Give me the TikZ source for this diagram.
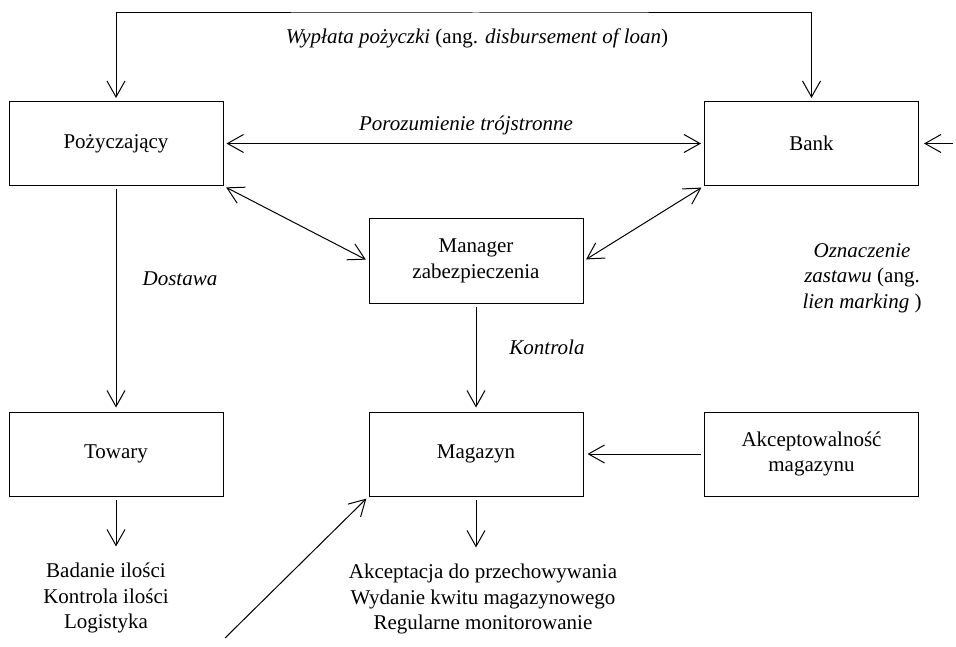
\documentclass[tikz,border=0pt]{standalone}
\usepackage{fontspec}
\setmainfont{Liberation Serif}
\usetikzlibrary{arrows.meta}
\tikzset{
  box/.style={draw, minimum width=214pt, minimum height=84pt, align=center, inner sep=0pt},
  txt/.style={align=center, inner sep=0pt},
  >={Straight Barb[length=16pt,width=18pt]}
}
\begin{document}
\begin{tikzpicture}[x=1pt, y=-1pt, line width=1pt, font=\fontsize{21}{25.5}\selectfont]
  \useasboundingbox (0,0) rectangle (956,647);
  \draw
    (116,143.5) node[box] (poz){Pożyczający}
    (811.5,143.5) node[box] (bank){Bank}
    (476,261) node[box] (man){Manager\\zabezpieczenia}
    (116,454) node[box] (tow){Towary}
    (476,454) node[box] (mag){Magazyn}
    (811.5,454) node[box] (akc){Akceptowalność\\magazynu};
  \draw
    (477,38) node[txt] (wyp){\textit{Wypłata pożyczki} (ang. \textit{disbursement of loan})}
    (466,125) node[txt] (por){\textit{Porozumienie trójstronne}}
    (180,279) node[txt] (dost){\textit{Dostawa}}
    (547,347) node[txt] (kon){\textit{Kontrola}}
    (862,278) node[txt] (ozn){\textit{Oznaczenie}\\\textit{zastawu} (ang.\\\textit{lien marking} )}
    (106,598) node[txt] (bad){Badanie ilości\\Kontrola ilości\\Logistyka}
    (483,599) node[txt] (akp){Akceptacja do przechowywania\\Wydanie kwitu magazynowego\\Regularne monitorowanie};
  \coordinate (top) at (476,13);
  \coordinate (in) at (956,143.5);
  \coordinate (src) at (223,640);
  \begin{scope}[shorten <=3pt, shorten >=3pt]
    \draw[<->] (poz.north) |- (top) -| (bank.north);
    \draw[<->] (poz) to (bank);
    \draw[<->] (poz.south east) to (man.west);
    \draw[<->] (bank.south west) to (man.east);
    \draw[->, shorten >=4pt] (poz) to (tow);
    \draw[->, shorten >=4pt] (man) to (mag);
    \draw[->, shorten >=4pt] (akc) to (mag);
    \draw[->, shorten >=5pt] (in) to (bank.east);
    \draw[->] (src) to (mag.south west);
    \draw[->, shorten >=16pt] (tow.south) to (tow.south |- bad.north);
    \draw[->, shorten >=16pt] (mag.south) to (mag.south |- akp.north);
  \end{scope}
\end{tikzpicture}
\end{document}
